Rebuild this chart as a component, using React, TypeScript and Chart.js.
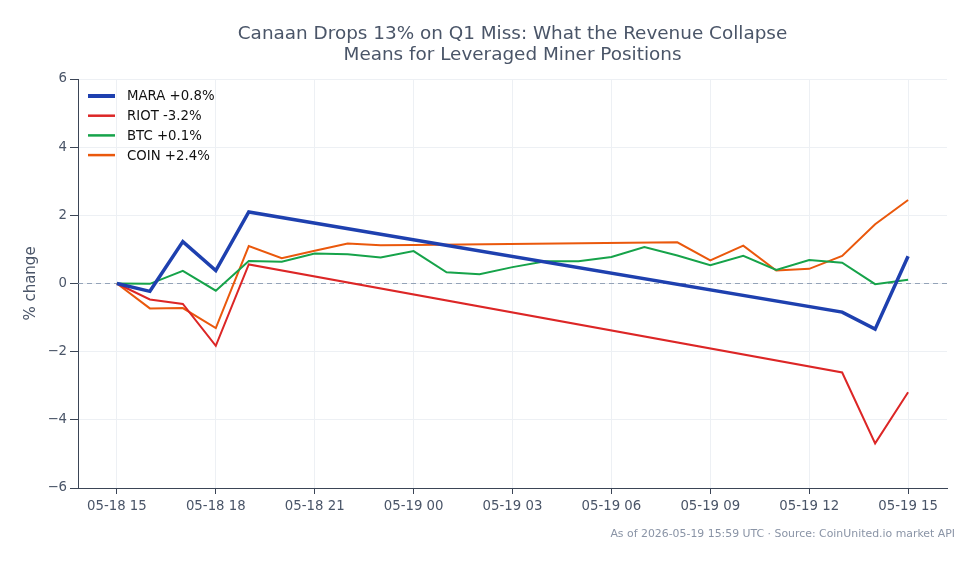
import React, { useEffect, useRef } from 'react';
import { Chart, registerables } from 'chart.js';

Chart.register(...registerables);

const titleLines = ['Canaan Drops 13% on Q1 Miss: What the Revenue Collapse', 'Means for Leveraged Miner Positions'];
const yAxisTitle = '% change';
const footerText = 'As of 2026-05-19 15:59 UTC \u00b7 Source: CoinUnited.io market API';

const hours = [0, 1, 2, 3, 4, 5, 6, 7, 8, 9, 10, 11, 12, 13, 14, 15, 16, 17, 18, 19, 20, 21, 22, 23, 24];
const xTickHours = [0, 3, 6, 9, 12, 15, 18, 21, 24];
const xTickLabels = ['05-18 15', '05-18 18', '05-18 21', '05-19 00', '05-19 03', '05-19 06', '05-19 09', '05-19 12', '05-19 15'];
const yTicks = [-6, -4, -2, 0, 2, 4, 6];

const maraValues = [0, -0.23, 1.23, 0.38, 2.10, null, null, null, null, null, null, null, null, null, null, null, null, null, null, null, null, null, -0.84, -1.34, 0.80];
const riotValues = [0, -0.47, -0.60, -1.83, 0.56, null, null, null, null, null, null, null, null, null, null, null, null, null, null, null, null, null, -2.61, -4.69, -3.19];
const btcValues = [0, -0.01, 0.37, -0.21, 0.66, 0.64, 0.88, 0.86, 0.76, 0.95, 0.33, 0.27, 0.48, 0.65, 0.65, 0.78, 1.07, 0.82, 0.54, 0.81, 0.40, 0.69, 0.61, -0.02, 0.11];
const coinValues = [0, -0.73, -0.72, -1.31, 1.10, 0.74, 0.96, 1.17, 1.12, 1.13, null, null, null, null, null, null, null, 1.21, 0.68, 1.11, 0.38, 0.43, 0.81, 1.74, 2.45];

const seriesLabels = ['MARA +0.8%', 'RIOT -3.2%', 'BTC +0.1%', 'COIN +2.4%'];
const seriesColors = ['#1e40af', '#dc2626', '#16a34a', '#ea580c'];
const seriesWidths = [3.5, 2, 2, 2];
const seriesValues = [maraValues, riotValues, btcValues, coinValues];

const FONT = '"DejaVu Sans", sans-serif';
const TEXT = '#4a5568';
const AXIS = '#3b4556';
const GRID = '#edf0f4';

const extrasPlugin = {
  id: 'extras',
  beforeDatasetsDraw(chart: any) {
    const { ctx, chartArea } = chart;
    const y0 = chart.scales.y.getPixelForValue(0);
    ctx.save();
    ctx.strokeStyle = '#94a3b8';
    ctx.lineWidth = 1;
    ctx.setLineDash([5, 4]);
    ctx.beginPath();
    ctx.moveTo(chartArea.left, y0);
    ctx.lineTo(chartArea.right, y0);
    ctx.stroke();
    ctx.restore();
  },
  afterDraw(chart: any) {
    const { ctx, chartArea } = chart;
    ctx.save();
    const cx = (chartArea.left + chartArea.right) / 2;
    ctx.fillStyle = TEXT;
    ctx.font = `18.4px ${FONT}`;
    ctx.textAlign = 'center';
    ctx.textBaseline = 'middle';
    titleLines.forEach((t, i) => ctx.fillText(t, cx, 26 + i * 21));
    ctx.save();
    ctx.translate(23, (chartArea.top + chartArea.bottom) / 2);
    ctx.rotate(-Math.PI / 2);
    ctx.font = `15px ${FONT}`;
    ctx.fillText(yAxisTitle, 0, 0);
    ctx.restore();
    ctx.textAlign = 'left';
    ctx.font = `13.3px ${FONT}`;
    chart.data.datasets.forEach((ds: any, i: number) => {
      const y = chartArea.top + 17 + i * 19.7;
      ctx.strokeStyle = ds.borderColor;
      ctx.lineWidth = i === 0 ? 4 : 2.5;
      ctx.beginPath();
      ctx.moveTo(chartArea.left + 10, y);
      ctx.lineTo(chartArea.left + 37, y);
      ctx.stroke();
      ctx.fillStyle = '#111';
      ctx.fillText(ds.label, chartArea.left + 49, y + 1);
    });
    ctx.textAlign = 'right';
    ctx.fillStyle = '#8a94a6';
    ctx.font = `10.9px ${FONT}`;
    ctx.fillText(footerText, 947, 526);
    ctx.restore();
  },
};

export default function App() {
  const ref = useRef<HTMLCanvasElement | null>(null);
  useEffect(() => {
    if (!ref.current) return;
    Chart.defaults.font.family = FONT;
    const chart = new Chart(ref.current, {
      type: 'line',
      data: {
        datasets: seriesValues.map((vals, i) => ({
          label: seriesLabels[i],
          data: hours.map((h, j) => ({ x: h, y: vals[j] })),
          borderColor: seriesColors[i],
          backgroundColor: seriesColors[i],
          borderWidth: seriesWidths[i],
          pointRadius: 0,
          tension: 0,
          spanGaps: true,
          fill: false,
        })),
      },
      options: {
        animation: false,
        responsive: false,
        devicePixelRatio: 1,
        layout: { padding: { top: 71, right: 24, bottom: 28, left: 0 } },
        plugins: { legend: { display: false }, title: { display: false }, tooltip: { enabled: false } },
        scales: {
          x: {
            type: 'linear',
            min: -1.18,
            max: 25.18,
            afterBuildTicks: (s: any) => { s.ticks = xTickHours.map((v) => ({ value: v })); },
            afterFit: (s: any) => { s.height = 40; },
            ticks: {
              autoSkip: false,
              maxRotation: 0,
              color: TEXT,
              font: { size: 13.3 },
              padding: 5,
              callback: (v: any) => xTickLabels[xTickHours.indexOf(Number(v))] ?? '',
            },
            grid: { color: GRID, tickColor: AXIS, tickLength: 6, drawTicks: true },
            border: { color: AXIS, width: 1 },
          },
          y: {
            min: -6,
            max: 6,
            afterBuildTicks: (s: any) => { s.ticks = yTicks.map((v) => ({ value: v })); },
            afterFit: (s: any) => { s.width = 70; },
            ticks: {
              color: TEXT,
              font: { size: 13.3 },
              padding: 3,
              callback: (v: any) => (Number(v) < 0 ? '\u2212' + Math.abs(Number(v)) : String(v)),
            },
            grid: { color: GRID, tickColor: AXIS, tickLength: 8, drawTicks: true },
            border: { color: AXIS, width: 1 },
          },
        },
      },
      plugins: [extrasPlugin],
    } as any);
    return () => chart.destroy();
  }, []);
  return (
    <div style={{ width: 963, height: 548 }}>
      <canvas ref={ref} width={963} height={548} style={{ display: 'block', width: 963, height: 548 }} />
    </div>
  );
}
